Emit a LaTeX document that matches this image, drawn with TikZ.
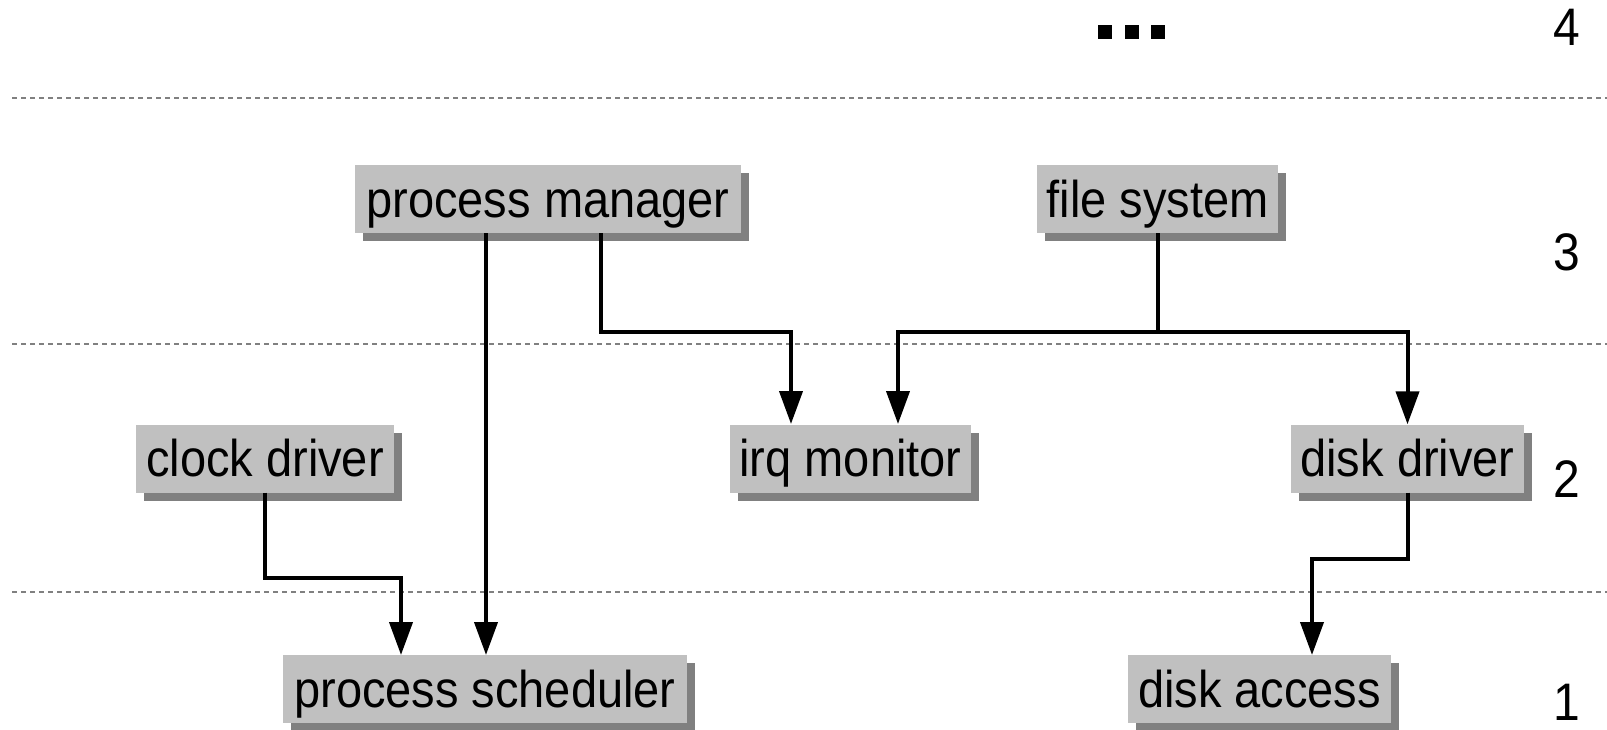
\documentclass[tikz,border=0pt]{standalone}
\usepackage{fontspec}
\setmainfont{Liberation Sans}
\usetikzlibrary{arrows.meta,shadows}
\definecolor{boxgray}{HTML}{C0C0C0}
\definecolor{shadowgray}{HTML}{808080}
\definecolor{dashgray}{HTML}{808080}
\newcommand{\tallbox}[1]{\scalebox{1}[1.1]{#1}}
\tikzset{
  layerbox/.style={rectangle, fill=boxgray, draw=none, inner sep=0pt,
    minimum height=68pt, text height=46pt, text depth=10pt,
    font=\fontsize{47}{56}\selectfont,
    copy shadow={shadow xshift=8pt, shadow yshift=-8pt, fill=shadowgray, draw=none}},
  conn/.style={line width=4pt, -{Triangle[length=33pt,width=23pt]}},
  sep/.style={dashgray, line width=1.5pt, dash pattern=on 5pt off 4pt},
  layernum/.style={anchor=base, font=\fontsize{48}{56}\selectfont, inner sep=0pt},
  dot/.style={fill=black, draw=none, minimum size=14pt, inner sep=0pt, rectangle}
}
\begin{document}
\begin{tikzpicture}[x=1pt, y=-1pt]
\useasboundingbox (0,0) rectangle (1607,729);
% separators
\draw[sep] (12,98) -- (1607,98);
\draw[sep] (12,344) -- (1607,344);
\draw[sep] (12,592) -- (1607,592);
% layer numbers
\node[layernum] (n4) at (1567,45) {\tallbox{4}};
\node[layernum] (n3) at (1567,270) {\tallbox{3}};
\node[layernum] (n2) at (1567,497) {\tallbox{2}};
\node[layernum] (n1) at (1567,720) {\tallbox{1}};
% dots
\node[dot] (d1) at (1105,32) {};
\node[dot] (d2) at (1131.5,32) {};
\node[dot] (d3) at (1158,32) {};
% boxes
\node[layerbox, minimum width=386pt] (pm) at (548,199) {\tallbox{process manager}};
\node[layerbox, minimum width=241pt] (fs) at (1157.5,199) {\tallbox{file system}};
\node[layerbox, minimum width=258pt] (cd) at (265,458.5) {\tallbox{clock driver}};
\node[layerbox, minimum width=241pt] (irq) at (850.5,458.5) {\tallbox{irq monitor}};
\node[layerbox, minimum width=233pt] (dd) at (1407.5,458.5) {\tallbox{disk driver}};
\node[layerbox, minimum width=404pt] (ps) at (485,689) {\tallbox{process scheduler}};
\node[layerbox, minimum width=263pt] (da) at (1259.5,689) {\tallbox{disk access}};
% connectors
\coordinate (pmA) at (486,233);
\coordinate (pmB) at (601,233);
\coordinate (psA) at (486,655);
\coordinate (psB) at (401,655);
\draw[conn] (pmA) -- (psA);
\draw[conn] (pmB) -- (601,332) -- (791,332) -- (791,424);
\draw[conn] (fs.south) -- (1157.5,332) -- (898,332) -- (898,424);
\draw[conn] (1157.5,332) -- (1407.5,332) -- (dd.north);
\draw[conn] (cd.south) -- (265,578) -- (401,578) -- (psB);
\draw[conn] (dd.south) -- (1407.5,559) -- (1312,559) -- (1312,655);
\end{tikzpicture}
\end{document}
